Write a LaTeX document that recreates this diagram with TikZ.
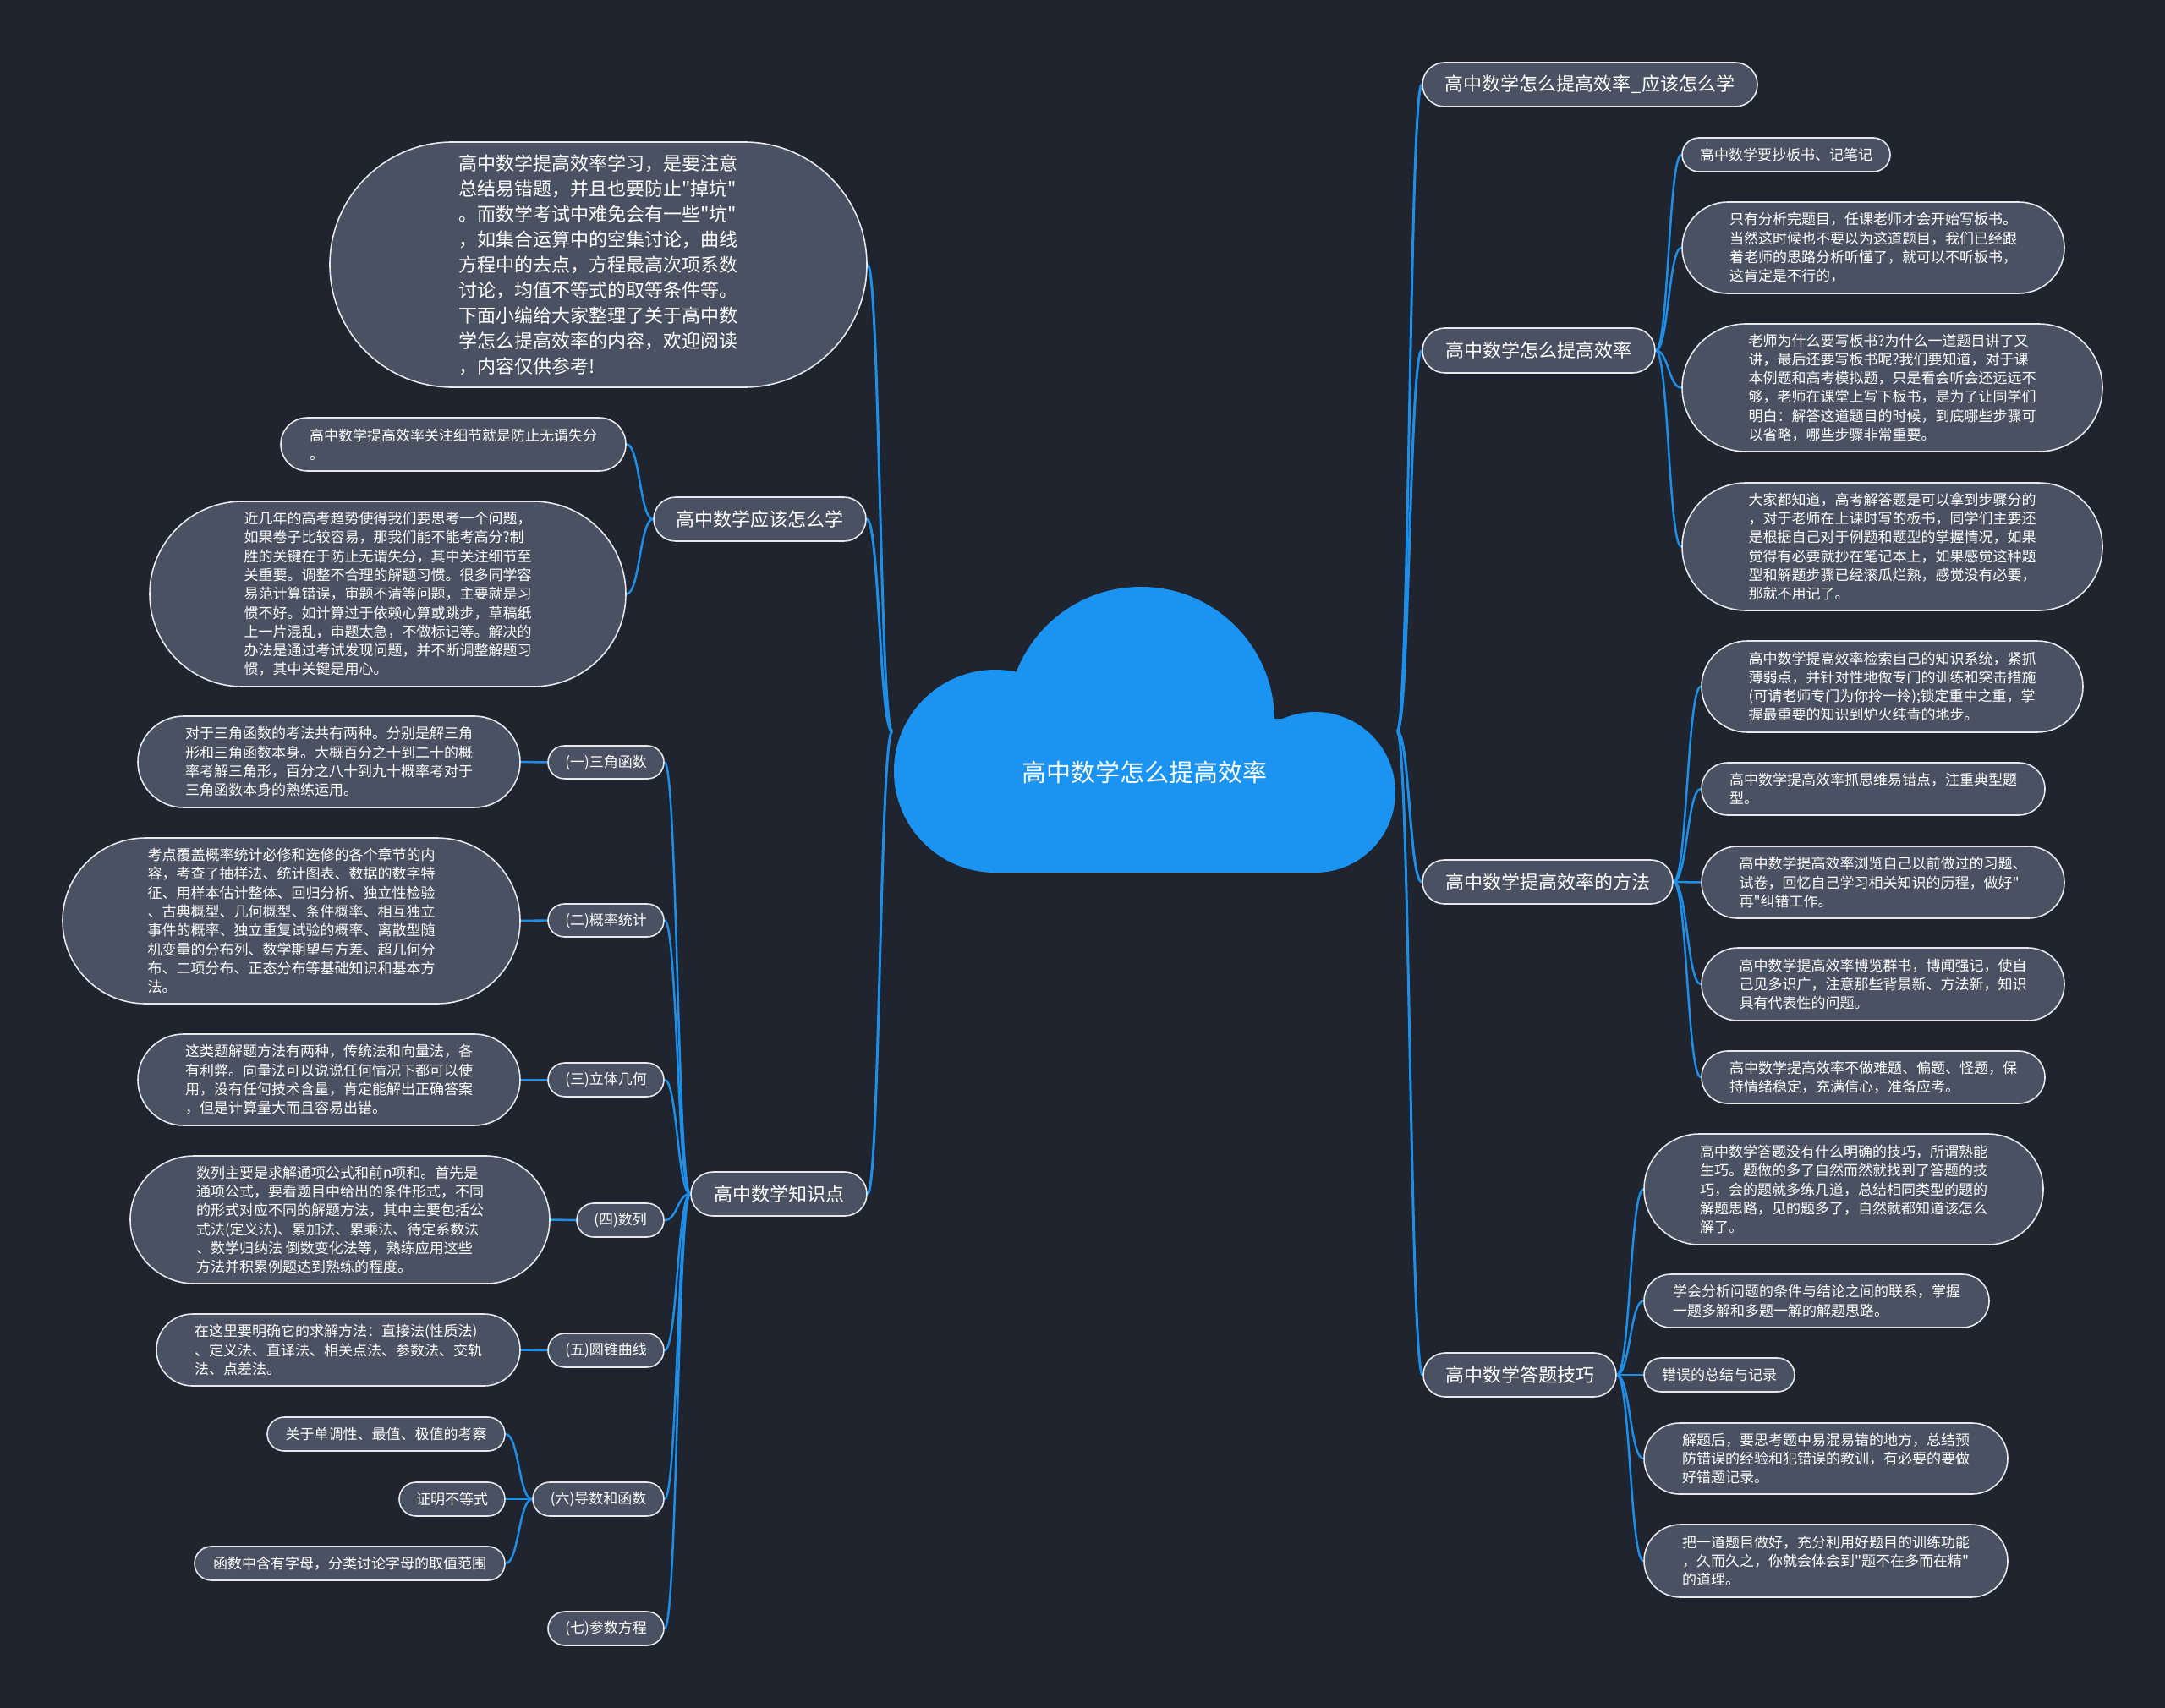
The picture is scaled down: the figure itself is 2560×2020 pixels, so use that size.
\documentclass[tikz,border=0pt]{standalone}
\usepackage{fontspec}
\setmainfont{Noto Sans CJK SC}[Ligatures=TeXOff]
\usetikzlibrary{calc}
\definecolor{bgc}{HTML}{20242F}
\definecolor{nodec}{HTML}{4A5162}
\definecolor{bordc}{HTML}{E6E8EC}
\definecolor{linkc}{HTML}{1E8FE8}
\definecolor{cloudc}{HTML}{1A94F0}
\pgfdeclarelayer{bg}
\pgfsetlayers{bg,main}
\newcommand\mmlink[3]{\draw[#1] let \p1=(#2), \p2=(#3) in (\p1) .. controls ({(\x1+\x2)/2},\y1) and ({(\x1+\x2)/2},\y2) .. (\p2);}
\tikzset{
  box/.style={draw=bordc, fill=nodec, line width=1.6pt, text=white, inner sep=0pt, align=left},
  big/.style={box, font=\fontsize{22}{30}\selectfont},
  small/.style={box, font=\fontsize{17}{22.3}\selectfont},
  mainlink/.style={draw=linkc, line width=3pt},
  sublink/.style={draw=linkc, line width=2.5pt},
}
\begin{document}
\begin{tikzpicture}[x=1pt,y=-1pt]
\useasboundingbox (0,0) rectangle (2560,2020);
\begin{pgfonlayer}{bg}
\fill[bgc] (0,0) rectangle (2560,2020);
\end{pgfonlayer}

% central cloud
\fill[cloudc] (1177,912) circle[radius=120pt];
\fill[cloudc] (1349,852) circle[radius=158pt];
\fill[cloudc] (1555,937) circle[radius=95pt];
\fill[cloudc] (1177,850) rectangle (1555,1032);
\node[text=white, font=\fontsize{29}{34}\selectfont, inner sep=0pt] (center) at (1353,913) {高中数学怎么提高效率};
\coordinate (cR) at (1652,865);
\coordinate (cL) at (1055,865);

% right branches
\node[big, minimum width=396, minimum height=52, rounded corners=26] (R1) at (1880,100) {高中数学怎么提高效率\_应该怎么学};
\node[big, minimum width=275, minimum height=53, rounded corners=26.5] (R2) at (1819.5,414.5) {高中数学怎么提高效率};
\node[big, minimum width=296, minimum height=52, rounded corners=26] (R3) at (1830,1043) {高中数学提高效率的方法};
\node[big, minimum width=228, minimum height=52, rounded corners=26] (R4) at (1797,1626) {高中数学答题技巧};

\node[small, minimum width=246, minimum height=40, rounded corners=20] (R2a) at (2112,183) {高中数学要抄板书、记笔记};
\node[small, minimum width=452, minimum height=108, rounded corners=54] (R2b) at (2215,293) {只有分析完题目，任课老师才会开始写板书。\\当然这时候也不要以为这道题目，我们已经跟\\着老师的思路分析听懂了，就可以不听板书，\\这肯定是不行的，};
\node[small, minimum width=497, minimum height=151, rounded corners=75.5] (R2c) at (2237.5,458.5) {老师为什么要写板书?为什么一道题目讲了又\\讲，最后还要写板书呢?我们要知道，对于课\\本例题和高考模拟题，只是看会听会还远远不\\够，老师在课堂上写下板书，是为了让同学们\\明白：解答这道题目的时候，到底哪些步骤可\\以省略，哪些步骤非常重要。};
\node[small, minimum width=497, minimum height=151, rounded corners=75.5] (R2d) at (2237.5,646.5) {大家都知道，高考解答题是可以拿到步骤分的\\，对于老师在上课时写的板书，同学们主要还\\是根据自己对于例题和题型的掌握情况，如果\\觉得有必要就抄在笔记本上，如果感觉这种题\\型和解题步骤已经滚瓜烂熟，感觉没有必要，\\那就不用记了。};

\node[small, minimum width=451, minimum height=108, rounded corners=54] (R3a) at (2237.5,812) {高中数学提高效率检索自己的知识系统，紧抓\\薄弱点，并针对性地做专门的训练和突击措施\\(可请老师专门为你拎一拎);锁定重中之重，掌\\握最重要的知识到炉火纯青的地步。};
\node[small, minimum width=406, minimum height=62, rounded corners=31] (R3b) at (2215,933) {高中数学提高效率抓思维易错点，注重典型题\\型。};
\node[small, minimum width=429, minimum height=85, rounded corners=42.5] (R3c) at (2226.5,1043.5) {高中数学提高效率浏览自己以前做过的习题、\\试卷，回忆自己学习相关知识的历程，做好"\\再"纠错工作。};
\node[small, minimum width=429, minimum height=86, rounded corners=43] (R3d) at (2226.5,1164) {高中数学提高效率博览群书，博闻强记，使自\\己见多识广，注意那些背景新、方法新，知识\\具有代表性的问题。};
\node[small, minimum width=406, minimum height=62, rounded corners=31] (R3e) at (2215,1274) {高中数学提高效率不做难题、偏题、怪题，保\\持情绪稳定，充满信心，准备应考。};

\node[small, minimum width=472, minimum height=131, rounded corners=65.5] (R4a) at (2180,1406.5) {高中数学答题没有什么明确的技巧，所谓熟能\\生巧。题做的多了自然而然就找到了答题的技\\巧，会的题就多练几道，总结相同类型的题的\\解题思路，见的题多了，自然就都知道该怎么\\解了。};
\node[small, minimum width=408, minimum height=63, rounded corners=31.5] (R4b) at (2148,1538.5) {学会分析问题的条件与结论之间的联系，掌握\\一题多解和多题一解的解题思路。};
\node[small, minimum width=178, minimum height=40, rounded corners=20] (R4c) at (2033,1626) {错误的总结与记录};
\node[small, minimum width=430, minimum height=84, rounded corners=42] (R4d) at (2159,1725) {解题后，要思考题中易混易错的地方，总结预\\防错误的经验和犯错误的教训，有必要的要做\\好错题记录。};
\node[small, minimum width=430, minimum height=86, rounded corners=43] (R4e) at (2159,1846) {把一道题目做好，充分利用好题目的训练功能\\，久而久之，你就会体会到"题不在多而在精"\\的道理。};

% left branches
\node[big, minimum width=635, minimum height=290, rounded corners=145] (L1) at (707.5,313) {高中数学提高效率学习，是要注意\\总结易错题，并且也要防止"掉坑"\\。而数学考试中难免会有一些"坑"\\，如集合运算中的空集讨论，曲线\\方程中的去点，方程最高次项系数\\讨论，均值不等式的取等条件等。\\下面小编给大家整理了关于高中数\\学怎么提高效率的内容，欢迎阅读\\，内容仅供参考!};
\node[big, minimum width=251, minimum height=52, rounded corners=26] (L2) at (898.5,614) {高中数学应该怎么学};
\node[small, minimum width=408, minimum height=63, rounded corners=31.5] (L2a) at (536,525.5) {高中数学提高效率关注细节就是防止无谓失分\\。};
\node[small, minimum width=563, minimum height=219, rounded corners=109.5] (L2b) at (458.5,702.5) {近几年的高考趋势使得我们要思考一个问题，\\如果卷子比较容易，那我们能不能考高分?制\\胜的关键在于防止无谓失分，其中关注细节至\\关重要。调整不合理的解题习惯。很多同学容\\易范计算错误，审题不清等问题，主要就是习\\惯不好。如计算过于依赖心算或跳步，草稿纸\\上一片混乱，审题太急，不做标记等。解决的\\办法是通过考试发现问题，并不断调整解题习\\惯，其中关键是用心。};

\node[big, minimum width=208, minimum height=52, rounded corners=26] (L3) at (921,1412) {高中数学知识点};
\node[small, minimum width=137, minimum height=39, rounded corners=19.5] (K1) at (716.5,901.5) {(一)三角函数};
\node[small, minimum width=137, minimum height=39, rounded corners=19.5] (K2) at (716.5,1088.5) {(二)概率统计};
\node[small, minimum width=137, minimum height=40, rounded corners=20] (K3) at (716.5,1277) {(三)立体几何};
\node[small, minimum width=103, minimum height=40, rounded corners=20] (K4) at (733.5,1443) {(四)数列};
\node[small, minimum width=137, minimum height=40, rounded corners=20] (K5) at (716.5,1597) {(五)圆锥曲线};
\node[small, minimum width=155, minimum height=40, rounded corners=20] (K6) at (707.5,1773) {(六)导数和函数};
\node[small, minimum width=137, minimum height=40, rounded corners=20] (K7) at (716.5,1926) {(七)参数方程};

\node[small, minimum width=452, minimum height=108, rounded corners=54] (K1c) at (389,901) {对于三角函数的考法共有两种。分别是解三角\\形和三角函数本身。大概百分之十到二十的概\\率考解三角形，百分之八十到九十概率考对于\\三角函数本身的熟练运用。};
\node[small, minimum width=541, minimum height=196, rounded corners=98] (K2c) at (344.5,1089) {考点覆盖概率统计必修和选修的各个章节的内\\容，考查了抽样法、统计图表、数据的数字特\\征、用样本估计整体、回归分析、独立性检验\\、古典概型、几何概型、条件概率、相互独立\\事件的概率、独立重复试验的概率、离散型随\\机变量的分布列、数学期望与方差、超几何分\\布、二项分布、正态分布等基础知识和基本方\\法。};
\node[small, minimum width=452, minimum height=108, rounded corners=54] (K3c) at (389,1277) {这类题解题方法有两种，传统法和向量法，各\\有利弊。向量法可以说说任何情况下都可以使\\用，没有任何技术含量，肯定能解出正确答案\\，但是计算量大而且容易出错。};
\node[small, minimum width=496, minimum height=151, rounded corners=75.5] (K4c) at (402,1442.5) {数列主要是求解通项公式和前n项和。首先是\\通项公式，要看题目中给出的条件形式，不同\\的形式对应不同的解题方法，其中主要包括公\\式法(定义法)、累加法、累乘法、待定系数法\\、数学归纳法 倒数变化法等，熟练应用这些\\方法并积累例题达到熟练的程度。};
\node[small, minimum width=430, minimum height=85, rounded corners=42.5] (K5c) at (400,1596.5) {在这里要明确它的求解方法：直接法(性质法)\\、定义法、直译法、相关点法、参数法、交轨\\法、点差法。};
\node[small, minimum width=281, minimum height=40, rounded corners=20] (K6a) at (456.5,1696) {关于单调性、最值、极值的考察};
\node[small, minimum width=125, minimum height=40, rounded corners=20] (K6b) at (534.5,1773) {证明不等式};
\node[small, minimum width=367, minimum height=40, rounded corners=20] (K6c) at (413.5,1849) {函数中含有字母，分类讨论字母的取值范围};

\begin{pgfonlayer}{bg}
\mmlink{mainlink}{cR}{R1.west}
\mmlink{mainlink}{cR}{R2.west}
\mmlink{mainlink}{cR}{R3.west}
\mmlink{mainlink}{cR}{R4.west}
\mmlink{mainlink}{cL}{L1.east}
\mmlink{mainlink}{cL}{L2.east}
\mmlink{mainlink}{cL}{L3.east}
\mmlink{sublink}{R2.east}{R2a.west}
\mmlink{sublink}{R2.east}{R2b.west}
\mmlink{sublink}{R2.east}{R2c.west}
\mmlink{sublink}{R2.east}{R2d.west}
\mmlink{sublink}{R3.east}{R3a.west}
\mmlink{sublink}{R3.east}{R3b.west}
\mmlink{sublink}{R3.east}{R3c.west}
\mmlink{sublink}{R3.east}{R3d.west}
\mmlink{sublink}{R3.east}{R3e.west}
\mmlink{sublink}{R4.east}{R4a.west}
\mmlink{sublink}{R4.east}{R4b.west}
\mmlink{sublink}{R4.east}{R4c.west}
\mmlink{sublink}{R4.east}{R4d.west}
\mmlink{sublink}{R4.east}{R4e.west}
\mmlink{sublink}{L2.west}{L2a.east}
\mmlink{sublink}{L2.west}{L2b.east}
\mmlink{sublink}{L3.west}{K1.east}
\mmlink{sublink}{L3.west}{K2.east}
\mmlink{sublink}{L3.west}{K3.east}
\mmlink{sublink}{L3.west}{K4.east}
\mmlink{sublink}{L3.west}{K5.east}
\mmlink{sublink}{L3.west}{K6.east}
\mmlink{sublink}{L3.west}{K7.east}
\mmlink{sublink}{K1.west}{K1c.east}
\mmlink{sublink}{K2.west}{K2c.east}
\mmlink{sublink}{K3.west}{K3c.east}
\mmlink{sublink}{K4.west}{K4c.east}
\mmlink{sublink}{K5.west}{K5c.east}
\mmlink{sublink}{K6.west}{K6a.east}
\mmlink{sublink}{K6.west}{K6b.east}
\mmlink{sublink}{K6.west}{K6c.east}
\end{pgfonlayer}
\end{tikzpicture}
\end{document}
